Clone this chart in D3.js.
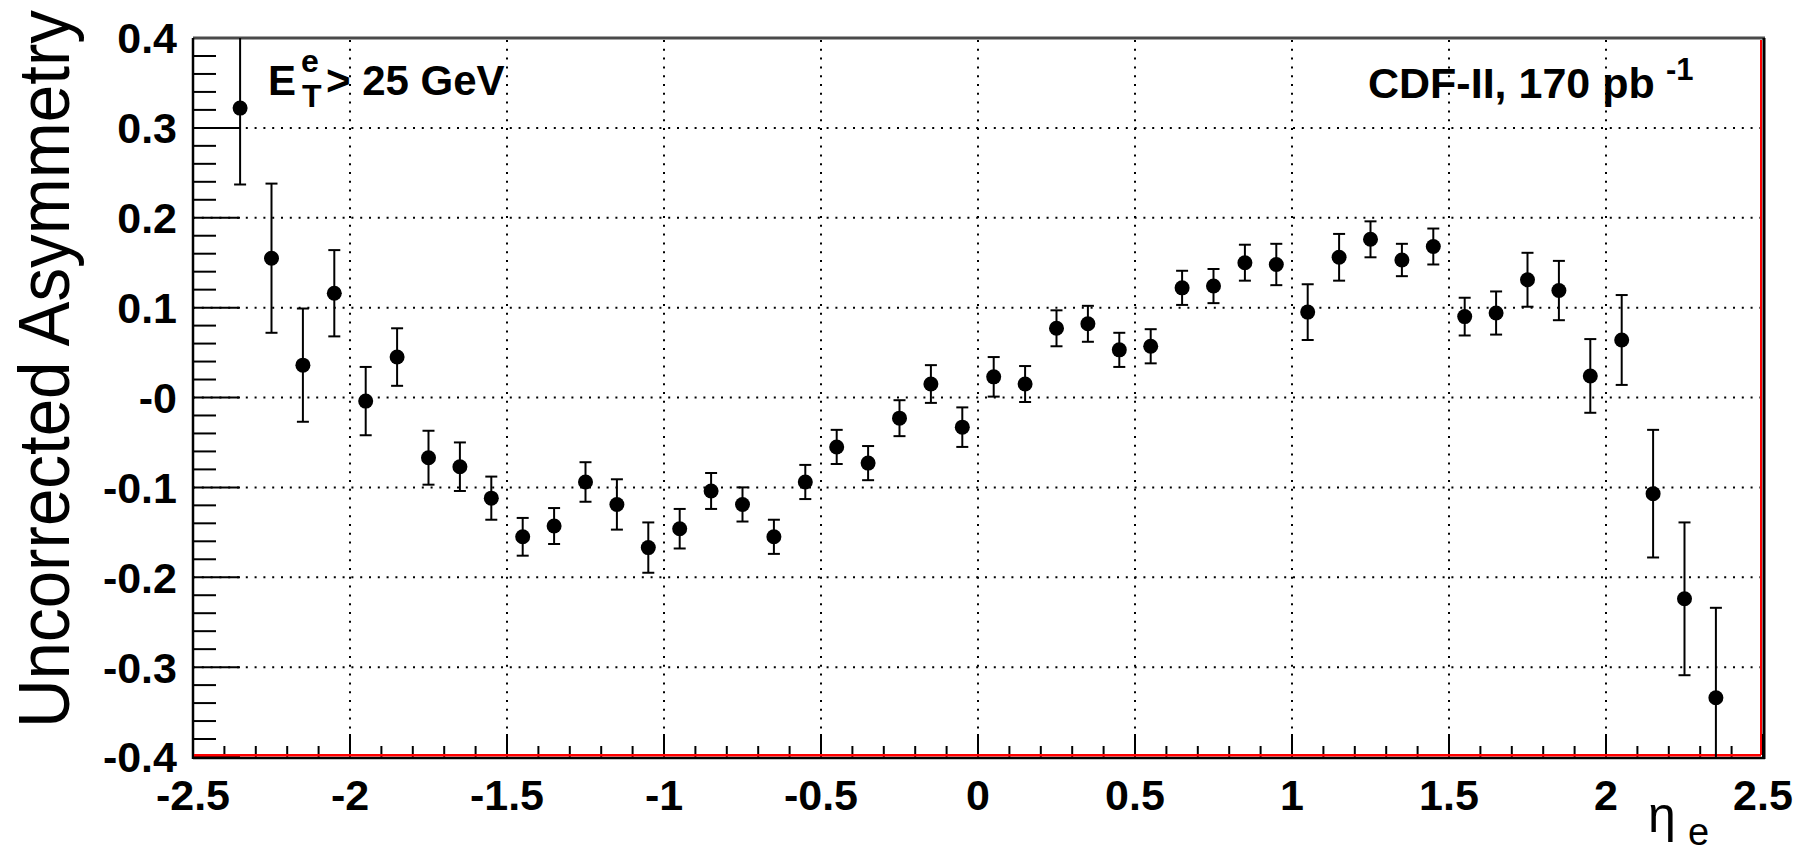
<!DOCTYPE html>
<html>
<head>
<meta charset="utf-8">
<script src="https://cdn.jsdelivr.net/npm/d3@7"></script>
<style>
  body { margin: 0; background: #fff; }
  text { font-family: "Liberation Sans", Arial, Helvetica, sans-serif; }
</style>
</head>
<body>
<svg id="chart" width="1800" height="851"></svg>
<script>
// eta bin centres, asymmetry and its error
const etaBins = [-2.35, -2.25, -2.15, -2.05, -1.95, -1.85, -1.75, -1.65, -1.55, -1.45,
    -1.35, -1.25, -1.15, -1.05, -0.95, -0.85, -0.75, -0.65, -0.55, -0.45,
    -0.35, -0.25, -0.15, -0.05, 0.05, 0.15, 0.25, 0.35, 0.45, 0.55,
    0.65, 0.75, 0.85, 0.95, 1.05, 1.15, 1.25, 1.35, 1.45, 1.55,
    1.65, 1.75, 1.85, 1.95, 2.05, 2.15, 2.25, 2.35];
const asym = [0.322, 0.155, 0.036, 0.116, -0.004, 0.045, -0.067, -0.077, -0.112, -0.155,
    -0.143, -0.094, -0.119, -0.167, -0.146, -0.104, -0.119, -0.155, -0.094, -0.055,
    -0.073, -0.023, 0.015, -0.033, 0.023, 0.015, 0.077, 0.082, 0.053, 0.057,
    0.122, 0.124, 0.150, 0.148, 0.095, 0.156, 0.176, 0.153, 0.168, 0.090,
    0.094, 0.131, 0.119, 0.024, 0.064, -0.107, -0.224, -0.334];
const asymErr = [0.085, 0.083, 0.063, 0.048, 0.038, 0.032, 0.030, 0.027, 0.024, 0.021,
    0.020, 0.022, 0.028, 0.028, 0.022, 0.020, 0.019, 0.019, 0.019, 0.019,
    0.019, 0.020, 0.021, 0.022, 0.022, 0.020, 0.020, 0.020, 0.019, 0.019,
    0.019, 0.019, 0.020, 0.023, 0.031, 0.026, 0.020, 0.018, 0.020, 0.021,
    0.024, 0.030, 0.033, 0.041, 0.050, 0.071, 0.085, 0.100];

const xTicks = [-2.5, -2, -1.5, -1, -0.5, 0, 0.5, 1, 1.5, 2, 2.5];
const xTickLabels = ["-2.5", "-2", "-1.5", "-1", "-0.5", "0", "0.5", "1", "1.5", "2", "2.5"];
const yTicks = [0.4, 0.3, 0.2, 0.1, 0, -0.1, -0.2, -0.3, -0.4];
const yTickLabels = ["0.4", "0.3", "0.2", "0.1", "-0", "-0.1", "-0.2", "-0.3", "-0.4"];

const svg = d3.select("#chart");
const pLeft = 193, pRight = 1763, pTop = 38, pBottom = 757;

const x = d3.scaleLinear().domain([-2.5, 2.5]).range([pLeft, pRight]);
const y = d3.scaleLinear().domain([-0.4, 0.4]).range([pBottom, pTop]);

// dotted grid
const grid = svg.append("g")
    .attr("stroke", "#000")
    .attr("stroke-width", 2)
    .attr("stroke-dasharray", "2 6.8");

grid.selectAll("line.gx")
    .data(xTicks.slice(1, -1))
    .enter().append("line")
    .attr("x1", d => x(d)).attr("x2", d => x(d))
    .attr("y1", pTop + 2).attr("y2", pBottom);

grid.selectAll("line.gy")
    .data(yTicks.slice(1, -1))
    .enter().append("line")
    .attr("x1", pLeft).attr("x2", pRight)
    .attr("y1", d => y(d)).attr("y2", d => y(d));

// y axis ticks: major every 0.1, minor every 0.02
const yMinor = d3.range(-0.4, 0.4001, 0.02);
svg.append("g").selectAll("line")
    .data(yMinor)
    .enter().append("line")
    .attr("x1", pLeft)
    .attr("x2", d => Math.abs(Math.round(d * 50) % 5) === 0 ? pLeft + 47 : pLeft + 23)
    .attr("y1", d => y(d)).attr("y2", d => y(d))
    .attr("stroke", "#000")
    .attr("stroke-width", 2);

// x axis ticks: major every 0.5, minor every 0.1
const xMinor = d3.range(-2.5, 2.5001, 0.1);
svg.append("g").selectAll("line")
    .data(xMinor)
    .enter().append("line")
    .attr("x1", d => x(d)).attr("x2", d => x(d))
    .attr("y1", pBottom)
    .attr("y2", d => Math.abs(Math.round(d * 10) % 5) === 0 ? pBottom - 23 : pBottom - 11)
    .attr("stroke", "#000")
    .attr("stroke-width", 2);

// frame
svg.append("line").attr("x1", pLeft).attr("x2", pRight + 2).attr("y1", pTop).attr("y2", pTop)
    .attr("stroke", "#4a4a4a").attr("stroke-width", 3);
svg.append("line").attr("x1", pLeft).attr("x2", pLeft).attr("y1", pTop).attr("y2", pBottom + 2)
    .attr("stroke", "#000").attr("stroke-width", 2.5);
svg.append("line").attr("x1", pLeft).attr("x2", pRight + 2).attr("y1", pBottom + 1).attr("y2", pBottom + 1)
    .attr("stroke", "#000").attr("stroke-width", 2.5);
svg.append("line").attr("x1", pLeft + 1).attr("x2", pRight - 2).attr("y1", pBottom - 1.8).attr("y2", pBottom - 1.8)
    .attr("stroke", "#ff0000").attr("stroke-width", 2.4);
svg.append("line").attr("x1", pRight + 1).attr("x2", pRight + 1).attr("y1", pTop).attr("y2", pBottom + 2)
    .attr("stroke", "#000").attr("stroke-width", 3);
svg.append("line").attr("x1", pRight - 2).attr("x2", pRight - 2).attr("y1", pTop + 2).attr("y2", pBottom - 2)
    .attr("stroke", "#ff0000").attr("stroke-width", 2);

// tick labels
svg.append("g").selectAll("text")
    .data(yTicks)
    .enter().append("text")
    .attr("x", 177)
    .attr("y", d => y(d))
    .attr("dy", "0.36em")
    .attr("text-anchor", "end")
    .attr("font-size", 43)
    .attr("font-weight", "bold")
    .text((d, i) => yTickLabels[i]);

svg.append("g").selectAll("text")
    .data(xTicks)
    .enter().append("text")
    .attr("x", d => x(d))
    .attr("y", 810)
    .attr("text-anchor", "middle")
    .attr("font-size", 43)
    .attr("font-weight", "bold")
    .text((d, i) => xTickLabels[i]);

// error bars, clipped to the frame
const pts = etaBins.map((e, i) => ({ eta: e, a: asym[i], err: asymErr[i] }));
const bars = svg.append("g").attr("stroke", "#000").attr("stroke-width", 2);

bars.selectAll("line.bar")
    .data(pts)
    .enter().append("line")
    .attr("x1", d => x(d.eta)).attr("x2", d => x(d.eta))
    .attr("y1", d => y(Math.min(0.4, d.a + d.err)))
    .attr("y2", d => y(Math.max(-0.4, d.a - d.err)));

const caps = [];
pts.forEach(d => {
    if (d.a + d.err < 0.4) caps.push({ eta: d.eta, v: d.a + d.err });
    if (d.a - d.err > -0.4) caps.push({ eta: d.eta, v: d.a - d.err });
});
bars.selectAll("line.cap")
    .data(caps)
    .enter().append("line")
    .attr("x1", d => x(d.eta) - 6).attr("x2", d => x(d.eta) + 6)
    .attr("y1", d => y(d.v)).attr("y2", d => y(d.v));

// markers
svg.append("g").selectAll("circle")
    .data(pts)
    .enter().append("circle")
    .attr("cx", d => x(d.eta))
    .attr("cy", d => y(d.a))
    .attr("r", 7.5)
    .attr("fill", "#000");

// axis titles
svg.append("text")
    .attr("transform", "translate(69,369) rotate(-90)")
    .attr("text-anchor", "middle")
    .attr("font-size", 72)
    .attr("textLength", 718)
    .attr("lengthAdjust", "spacingAndGlyphs")
    .text("Uncorrected Asymmetry");

svg.append("text")
    .attr("x", 1648).attr("y", 832)
    .attr("font-size", 50)
    .text("η");
svg.append("text")
    .attr("x", 1688).attr("y", 845)
    .attr("font-size", 38)
    .text("e");

// annotations
const et = svg.append("g").attr("font-weight", "bold");
et.append("text").attr("x", 268).attr("y", 95).attr("font-size", 42).text("E");
et.append("text").attr("x", 301).attr("y", 72).attr("font-size", 32).text("e");
et.append("text").attr("x", 302).attr("y", 107).attr("font-size", 32).text("T");
et.append("text").attr("x", 326).attr("y", 95).attr("font-size", 42).text("> 25 GeV");

const cdf = svg.append("g").attr("font-weight", "bold");
cdf.append("text").attr("x", 1368).attr("y", 98).attr("font-size", 43).text("CDF-II, 170 pb");
cdf.append("text").attr("x", 1666).attr("y", 80).attr("font-size", 31).text("-1");
</script>
</body>
</html>
